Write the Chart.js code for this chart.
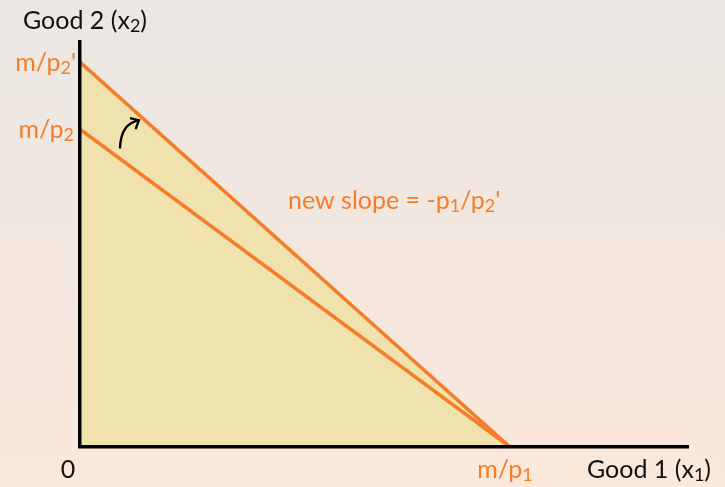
<!DOCTYPE html>
<html>
<head>
<meta charset="utf-8">
<script src="https://cdn.jsdelivr.net/npm/chart.js@4.4.1/dist/chart.umd.min.js"></script>
<style>
  html, body { margin: 0; padding: 0; }
  body { width: 725px; height: 487px; background: linear-gradient(to bottom, #ebe7e3 0%, #f3e7df 50%, #fbe8da 100%); }
  canvas { display: block; }
</style>
</head>
<body>
<canvas id="budget" width="725" height="487"></canvas>
<script>
// budget line endpoints (x1 on horizontal, x2 on vertical)
const x1Points = [0, 10];
const oldBudget = [7.43, 0];   // m/p2 intercept
const newBudget = [9, 0];      // m/p2' intercept
const axisMax = { x: 14.14, y: 9.47 };
// curved arrow showing the pivot: tail -> head
const arrowX = [0.93, 1.37];
const arrowY = [7.0, 7.64];

const orange = '#f47d2a';
const fontFamily = 'Lato, "Open Sans", sans-serif';

// draws text with simple subscript pieces: parts = [[text, isSub], ...]
function drawRich(ctx, parts, x, y, size, align) {
  const sub = Math.round(size * 0.72);
  let total = 0;
  parts.forEach(p => {
    ctx.font = (p[1] ? sub : size) + 'px ' + fontFamily;
    total += ctx.measureText(p[0]).width;
  });
  let cx = align === 'right' ? x - total : align === 'center' ? x - total / 2 : x;
  ctx.textBaseline = 'alphabetic';
  ctx.textAlign = 'left';
  parts.forEach(p => {
    ctx.font = (p[1] ? sub : size) + 'px ' + fontFamily;
    ctx.fillText(p[0], cx, p[1] ? y + size * 0.12 : y);
    cx += ctx.measureText(p[0]).width;
  });
}

const labelsPlugin = {
  id: 'labels',
  afterDraw(chart) {
    const ctx = chart.ctx;
    const xs = chart.scales.x, ys = chart.scales.y;
    ctx.save();
    // curved arrow
    const tx = xs.getPixelForValue(arrowX[0]), ty = ys.getPixelForValue(arrowY[0]);
    const hx = xs.getPixelForValue(arrowX[1]), hy = ys.getPixelForValue(arrowY[1]);
    ctx.strokeStyle = '#000';
    ctx.lineWidth = 2.3;
    ctx.lineCap = 'round';
    ctx.beginPath();
    ctx.moveTo(tx, ty);
    ctx.quadraticCurveTo(tx + 1, hy + 3, hx, hy);
    ctx.stroke();
    ctx.beginPath();
    ctx.moveTo(hx - 8, hy - 2);
    ctx.lineTo(hx, hy);
    ctx.lineTo(hx - 3, hy + 8);
    ctx.stroke();

    const size = 25;
    ctx.fillStyle = '#111';
    drawRich(ctx, [['Good 2 (x', false], ['2', true], [')', false]], 23, 29, size, 'left');
    drawRich(ctx, [['Good 1 (x', false], ['1', true], [')', false]], 587, 478, size, 'left');
    drawRich(ctx, [['0', false]], 68, 478, size, 'center');

    ctx.fillStyle = orange;
    drawRich(ctx, [['m/p', false], ['2', true], ["'", false]], xs.left - 4, ys.getPixelForValue(newBudget[0]) + 9, size, 'right');
    drawRich(ctx, [['m/p', false], ['2', true]], xs.left - 6, ys.getPixelForValue(oldBudget[0]) + 9, size, 'right');
    drawRich(ctx, [['m/p', false], ['1', true]], xs.getPixelForValue(x1Points[1]) - 5, 478, size, 'center');
    drawRich(ctx, [['new slope = -p', false], ['1', true], ['/p', false], ['2', true], ["'", false]], 288, 209, size, 'left');
    ctx.restore();
  }
};

new Chart(document.getElementById('budget').getContext('2d'), {
  type: 'scatter',
  data: {
    datasets: [
      {
        label: 'new budget',
        data: x1Points.map((x, i) => ({ x: x, y: newBudget[i] })),
        showLine: true,
        borderColor: orange,
        borderWidth: 3.5,
        pointRadius: 0,
        fill: 'origin',
        backgroundColor: '#f0e2ad',
        order: 2
      },
      {
        label: 'old budget',
        data: x1Points.map((x, i) => ({ x: x, y: oldBudget[i] })),
        showLine: true,
        borderColor: orange,
        borderWidth: 3.5,
        pointRadius: 0,
        fill: false,
        order: 1
      }
    ]
  },
  options: {
    responsive: false,
    animation: false,
    layout: { padding: { left: 72, right: 37, top: 42, bottom: 32 } },
    plugins: { legend: { display: false }, tooltip: { enabled: false } },
    scales: {
      x: {
        type: 'linear', min: 0, max: axisMax.x,
        grid: { display: false },
        ticks: { display: false },
        border: { color: '#000', width: 3.5, z: 1 }
      },
      y: {
        type: 'linear', min: 0, max: axisMax.y,
        grid: { display: false },
        ticks: { display: false },
        border: { color: '#000', width: 3.5, z: 1 }
      }
    }
  },
  plugins: [labelsPlugin]
});
</script>
</body>
</html>
